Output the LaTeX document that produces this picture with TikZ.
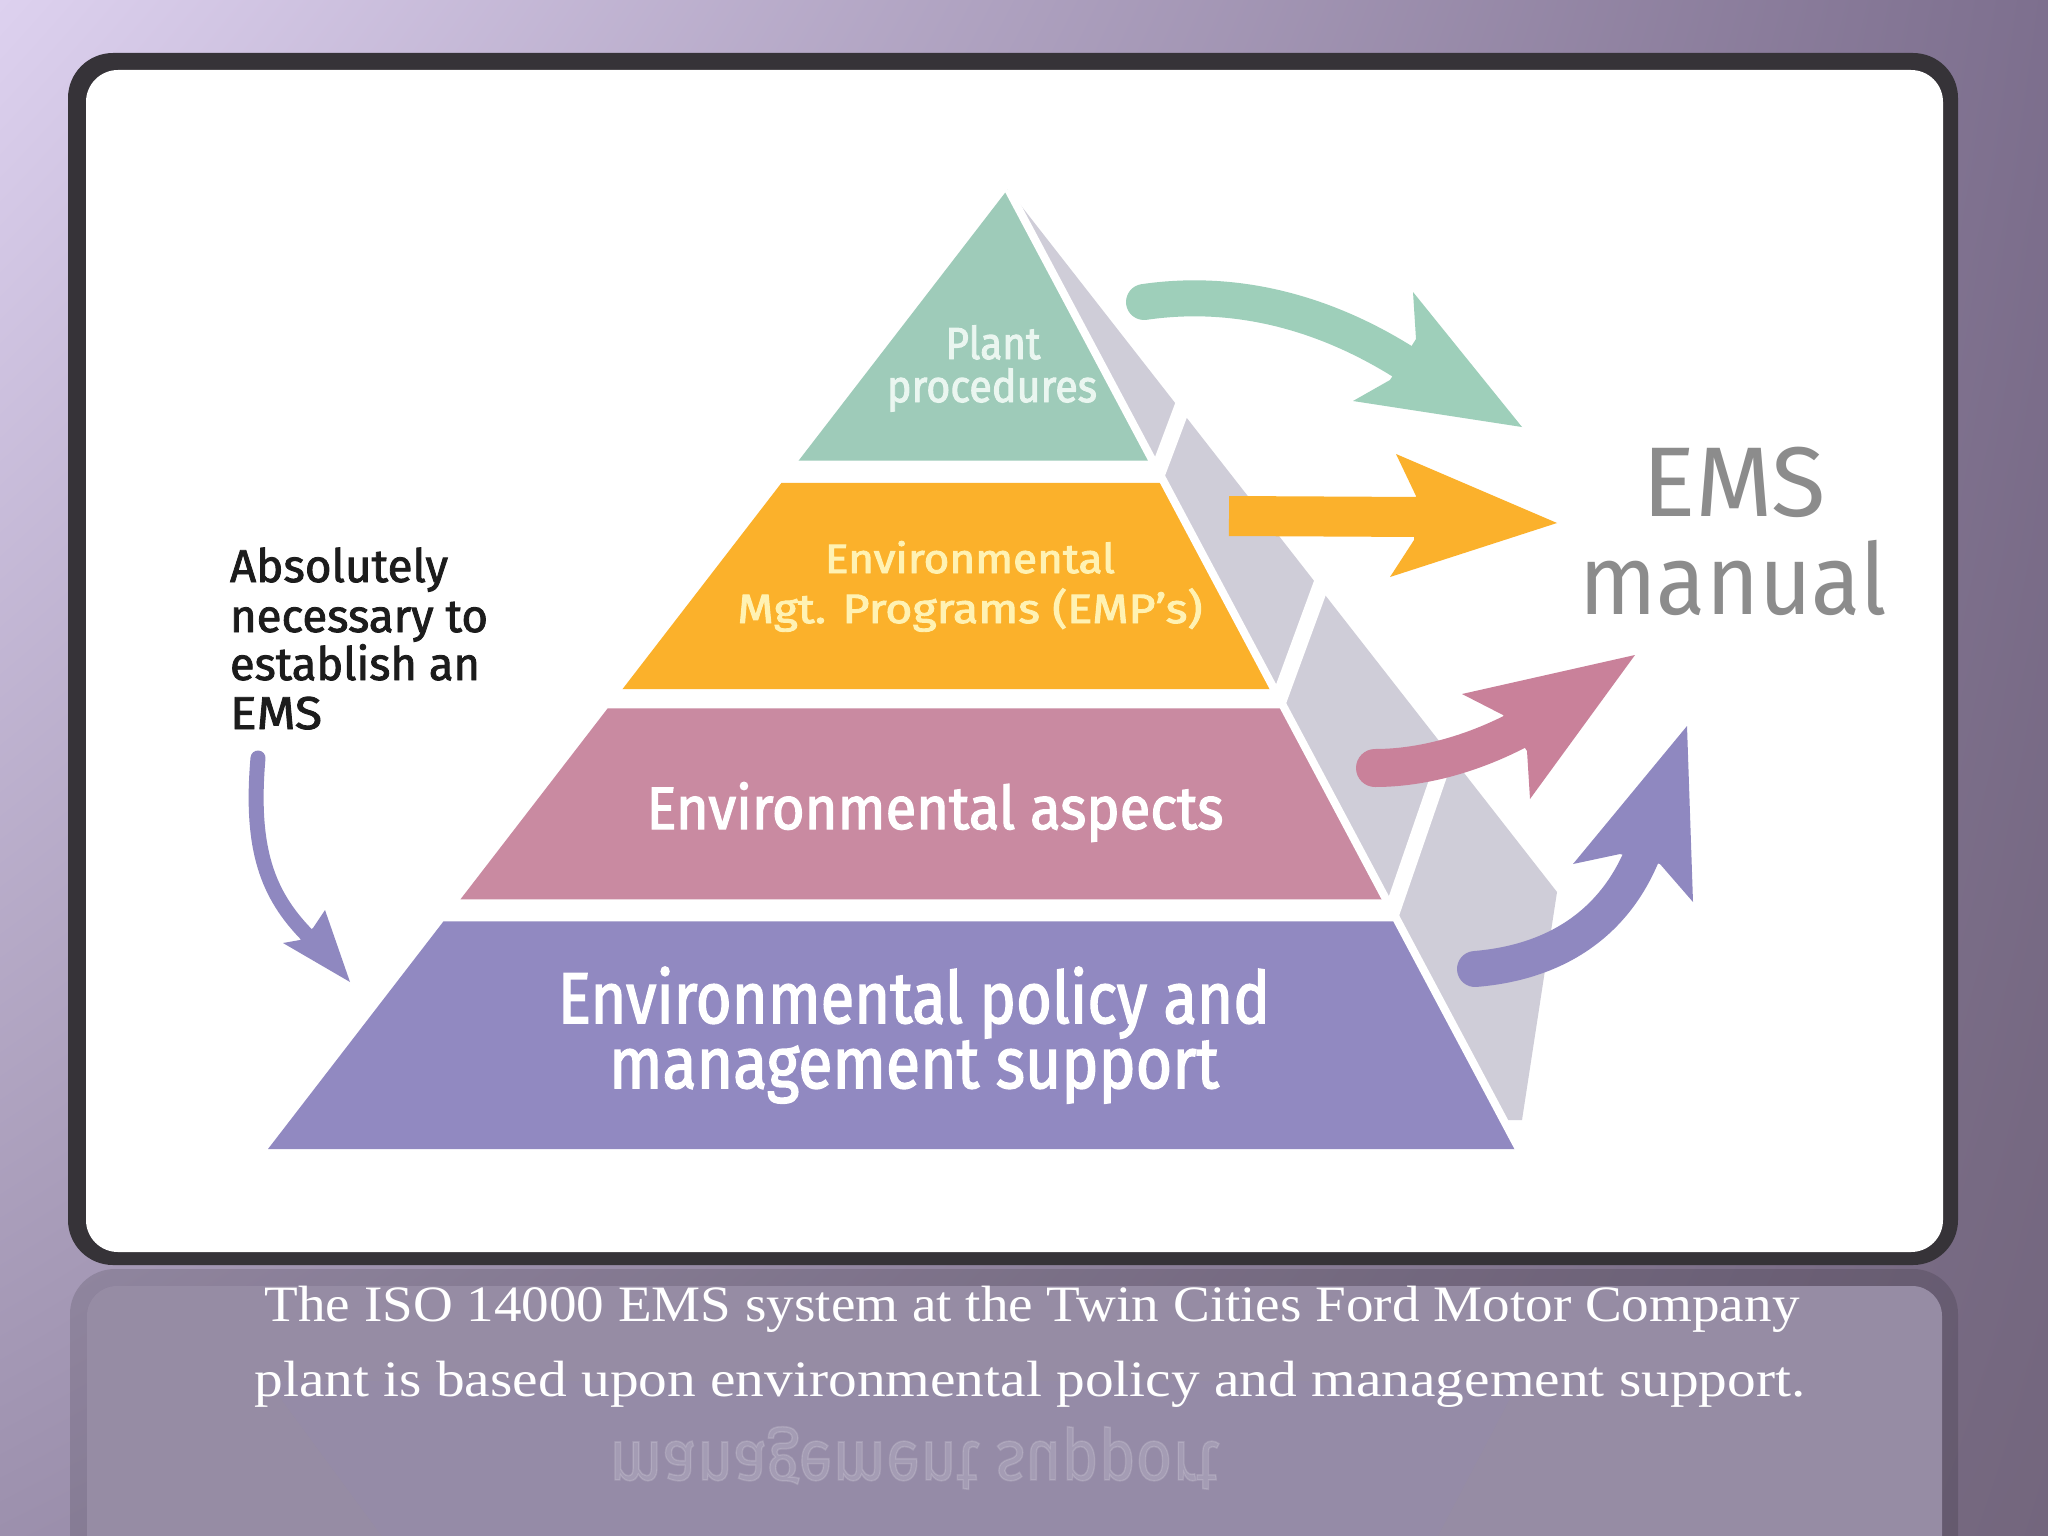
\documentclass[tikz,border=0pt]{standalone}
\usepackage{fontspec}
\usepackage{graphicx}
\usetikzlibrary{calc,shadings}
\newfontfamily\bandfont{Fira Sans}[FakeBold=2.2]
\newfontfamily\notefont{Fira Sans}[FakeBold=1.8]
\newfontfamily\emsfont{Fira Sans}
\newfontfamily\capfont{Liberation Serif}
\newsavebox\fitbox
\newcommand\fitw[2]{\sbox\fitbox{#2}\pgfmathsetmacro\fitr{#1/\the\wd\fitbox}\scalebox{\fitr}[1]{\usebox\fitbox}}
\definecolor{bgUL}{HTML}{DDD1EF}
\definecolor{bgUR}{HTML}{7D6F8E}
\definecolor{bgLL}{HTML}{9C90AD}
\definecolor{bgLR}{HTML}{73667D}
\definecolor{rim}{HTML}{363338}
\definecolor{cgreen}{HTML}{9ECBB9}
\definecolor{corange}{HTML}{FBB12B}
\definecolor{cpink}{HTML}{C98AA1}
\definecolor{cpurple}{HTML}{9189C1}
\definecolor{cface}{HTML}{CFCDD8}
\definecolor{agreen}{HTML}{9ECFBA}
\definecolor{apink}{HTML}{C9819A}
\definecolor{apurple}{HTML}{8F88C0}
\definecolor{aorange}{HTML}{FBB12C}
\definecolor{gtext}{HTML}{EAF6F0}
\definecolor{otext}{HTML}{FFF2B3}
\definecolor{emsgray}{HTML}{8C8C8C}
\definecolor{blk}{HTML}{1C1C1C}
\begin{document}
\begin{tikzpicture}[x=1pt,y=-1pt,
  lbl/.style={inner sep=0pt, outer sep=0pt, anchor=base},
  lblw/.style={inner sep=0pt, outer sep=0pt, anchor=base west},
  sepline/.style={white, line width=16pt}]
\path[use as bounding box] (0,0) rectangle (2048,1536);
\begin{scope}
\clip (0,0) rectangle (2048,1536);
% background
\shade[upper left=bgUL, upper right=bgUR, lower left=bgLL, lower right=bgLR] (0,0) rectangle (2048,1536);
% reflection of the frame
\fill[black, opacity=0.13, rounded corners=45pt] (70,1269) rectangle (1958,1800);
\fill[bgLL!60!bgLR, rounded corners=30pt] (87,1286) rectangle (1942,1800);
\fill[white, opacity=0.10, rounded corners=30pt] (87,1286) rectangle (1942,1800);
\fill[cpurple, opacity=0.12] (268,1381) -- (1519,1381) -- (1400,1608) -- (435,1608) -- cycle;
\node[lbl, text=white, opacity=0.15, yscale=-1, transform shape, font=\bandfont\fontsize{72}{72}\selectfont] (r2) at (914,1442) {\fitw{610}{management support}};
% frame
\fill[rim, rounded corners=45pt] (68,53) rectangle (1958,1265);
\fill[white, rounded corners=32pt] (86,70) rectangle (1943,1252);
% pyramid
\coordinate (apex) at (1008,189);
\coordinate (FL) at (268,1149);
\coordinate (FR) at (1519,1149);
\coordinate (BR) at (1557,892);
\fill[cface] (apex) -- (BR) -- (1522,1120) -- ($(apex)!0.97!(FR)$) -- cycle;
\coordinate (s1a) at (1153.6,483.4); \coordinate (s1b) at (1190.1,386.1);
\coordinate (s2a) at (1271.2,720.9); \coordinate (s2b) at (1336.0,544.0);
\coordinate (s3a) at (1381.3,942.8); \coordinate (s3b) at (1469.2,687.6);
\draw[sepline] (s1a) -- (s1b);
\draw[sepline] (s2a) -- (s2b);
\draw[sepline] (s3a) -- (s3b);
\fill[cgreen] (apex) -- ($(apex)!0.283!(FR)$) -- ($(apex)!0.283!(FL)$) -- cycle;
\fill[corange] ($(apex)!0.306!(FL)$) -- ($(apex)!0.306!(FR)$) -- ($(apex)!0.521!(FR)$) -- ($(apex)!0.521!(FL)$) -- cycle;
\fill[cpink] ($(apex)!0.541!(FL)$) -- ($(apex)!0.541!(FR)$) -- ($(apex)!0.740!(FR)$) -- ($(apex)!0.740!(FL)$) -- cycle;
\fill[cpurple] ($(apex)!0.763!(FL)$) -- ($(apex)!0.763!(FR)$) -- (FR) -- (FL) -- cycle;
\draw[white, line width=8pt] (apex) -- ($(apex)!1.01!(FR)$);
% arrows to EMS manual
\coordinate (gs) at (1144,302); \coordinate (ge) at (1408,365);
\draw[agreen, line width=36pt, line cap=round] (gs) .. controls (1240,288) and (1330,315) .. (ge);
\fill[agreen] (1522,427) -- (1413,292) -- (1416,339) -- (1390,380) -- (1353,401) -- cycle;
\coordinate (os) at (1229,516); \coordinate (oe) at (1420,517);
\draw[aorange, line width=40pt] (os) -- (oe);
\fill[aorange] (1557,523) -- (1396,454) -- (1416,496) -- (1414,540) -- (1390,577) -- cycle;
\coordinate (ps) at (1375,768); \coordinate (pe) at (1518,730);
\draw[apink, line width=38pt, line cap=round] (ps) .. controls (1420,768) and (1470,755) .. (pe);
\fill[apink] (1635,655) -- (1462,694) -- (1503,715) -- (1527,751) -- (1530,799) -- cycle;
\coordinate (us) at (1475,969); \coordinate (ue) at (1642,855);
\draw[apurple, line width=36pt, line cap=round] (us) .. controls (1560,962) and (1615,920) .. (ue);
\fill[apurple] (1687,726) -- (1693,902) -- (1660,864) -- (1620,854) -- (1573,864) -- cycle;
% left arrow
\coordinate (ls) at (258,758); \coordinate (le) at (307,935);
\draw[apurple, line width=15pt, line cap=round] (ls) .. controls (250,850) and (268,895) .. (le);
\fill[apurple] (350,982) -- (325,910) -- (313,928) -- (300,940) -- (283,943) -- cycle;
% band labels
\node[lbl, text=gtext, font=\bandfont\fontsize{45}{45}\selectfont] (g1) at (993,359) {\fitw{95}{Plant}};
\node[lbl, text=gtext, font=\bandfont\fontsize{45}{45}\selectfont] (g2) at (992,402) {\fitw{210}{procedures}};
\node[lbl, text=otext, font=\bandfont\fontsize{41}{41}\selectfont] (o1) at (970,573) {\fitw{290}{Environmental}};
\node[lbl, text=otext, font=\bandfont\fontsize{41}{41}\selectfont] (o2) at (970,623) {\fitw{465}{Mgt. Programs (EMP’s)}};
\node[lbl, text=white, font=\bandfont\fontsize{60}{60}\selectfont] (p1) at (935,829) {\fitw{577}{Environmental aspects}};
\node[lbl, text=white, font=\bandfont\fontsize{72}{72}\selectfont] (u1) at (914,1023) {\fitw{712}{Environmental policy and}};
\node[lbl, text=white, font=\bandfont\fontsize{72}{72}\selectfont] (u2) at (914,1088) {\fitw{610}{management support}};
% left note
\node[lblw, text=blk, font=\notefont\fontsize{46}{46}\selectfont] (a1) at (230,582) {\fitw{218}{Absolutely}};
\node[lblw, text=blk, font=\notefont\fontsize{46}{46}\selectfont] (a2) at (230,632) {\fitw{258}{necessary to}};
\node[lblw, text=blk, font=\notefont\fontsize{46}{46}\selectfont] (a3) at (230,680) {\fitw{250}{establish an}};
\node[lblw, text=blk, font=\notefont\fontsize{46}{46}\selectfont] (a4) at (230,729) {\fitw{92}{EMS}};
% EMS manual
\node[lbl, text=emsgray, font=\emsfont\fontsize{99}{99}\selectfont] (e1) at (1734,516) {\fitw{184}{EMS}};
\node[lbl, text=emsgray, font=\emsfont\fontsize{99}{99}\selectfont] (e2) at (1733,614) {\fitw{307}{manual}};
% caption
\node[lbl, text=white, font=\capfont\fontsize{51}{51}\selectfont] (c1) at (1032,1321) {\fitw{1535}{The ISO 14000 EMS system at the Twin Cities Ford Motor Company}};
\node[lbl, text=white, font=\capfont\fontsize{51}{51}\selectfont] (c2) at (1030,1396) {\fitw{1551}{plant is based upon environmental policy and management support.}};
\end{scope}
\end{tikzpicture}
\end{document}
